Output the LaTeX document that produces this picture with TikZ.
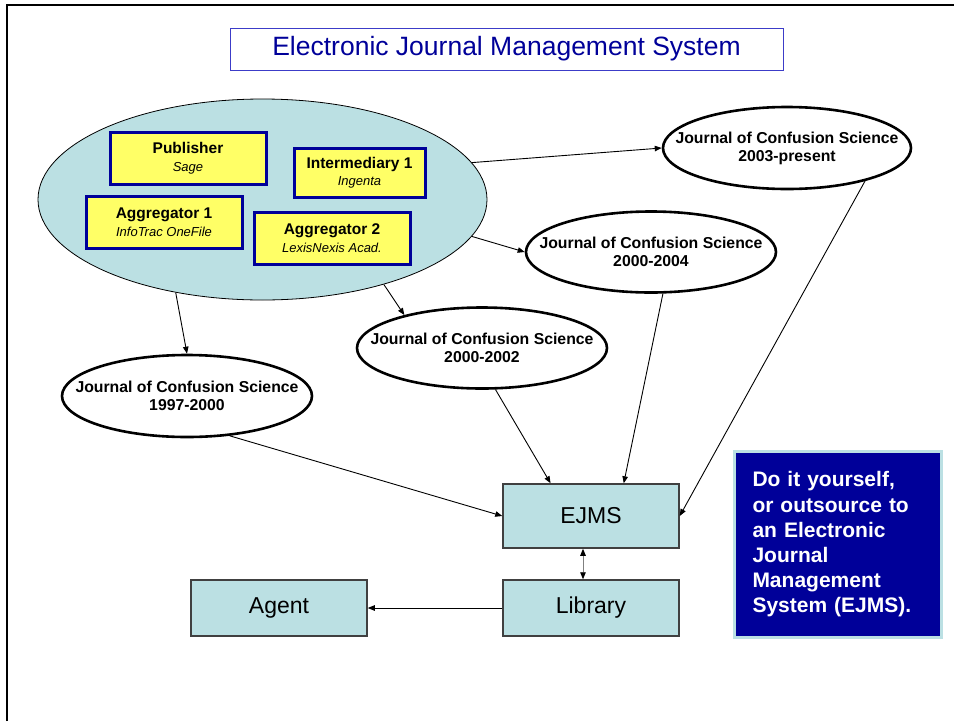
\documentclass[tikz,border=0pt]{standalone}
\usepackage{fontspec}
\setmainfont{Liberation Sans}
\usetikzlibrary{shapes.geometric,arrows.meta}
\definecolor{paleteal}{RGB}{187,224,227}
\definecolor{pubyellow}{RGB}{255,255,102}
\definecolor{navy}{RGB}{0,0,153}
\definecolor{titleline}{RGB}{60,60,200}
\definecolor{boxgrey}{RGB}{64,64,64}
\tikzset{
  link/.style={line width=0.9pt,-{Triangle[length=7pt,width=5.5pt]}},
  journal/.style={ellipse,draw,line width=2.6pt,fill=white,inner xsep=-60pt,inner ysep=0pt,
    minimum width=250pt,minimum height=81pt,align=center,font=\fontsize{15.8}{18}\selectfont\bfseries},
  source/.style={rectangle,draw=navy,line width=3pt,fill=pubyellow,inner sep=0pt,
    minimum width=156pt,minimum height=52pt,align=center,font=\fontsize{15.5}{17.5}\selectfont},
  unit/.style={rectangle,draw=boxgrey,line width=1.5pt,fill=paleteal,inner sep=0pt,
    minimum width=176pt,minimum height=56pt,font=\fontsize{23}{27}\selectfont},
}
\newcommand{\srcname}[1]{{\fontsize{13}{15}\selectfont\itshape #1}}
\begin{document}
\begin{tikzpicture}[x=1pt,y=-1pt]
	\useasboundingbox (0,0) rectangle (954,721);
	\draw[line width=2.5pt] (7,721) -- (7,5) -- (954,5);
	\node[draw=titleline,line width=0.8pt,minimum width=553pt,minimum height=42pt,inner sep=0pt,text=navy,font=\fontsize{26.5}{30}\selectfont] (title) at (506.5,49) {Electronic Journal Management System};

	\node[ellipse,draw,line width=0.8pt,fill=paleteal,minimum width=449pt,minimum height=201pt,inner sep=0pt] (bigell) at (262.5,199.5) {};
	\node[source] (publisher) at (188,158) {\textbf{Publisher}\\\srcname{Sage}};
	\node[source,minimum width=131pt,minimum height=49pt] (intermediary) at (359.5,172.5) {\textbf{Intermediary 1}\\\srcname{Ingenta}};
	\node[source] (aggone) at (164,222) {\textbf{Aggregator 1}\\\srcname{InfoTrac OneFile}};
	\node[source] (aggtwo) at (332,238) {\textbf{Aggregator 2}\\\srcname{LexisNexis Acad.}};

	\node[journal,minimum width=248pt,minimum height=82pt] (jcs2003) at (787,148) {Journal of Confusion Science\\2003-present};
	\node[journal] (jcs2004) at (651,252) {Journal of Confusion Science\\2000-2004};
	\node[journal] (jcs2002) at (482,348) {Journal of Confusion Science\\2000-2002};
	\node[journal,minimum height=82pt] (jcs1997) at (187,396) {Journal of Confusion Science\\1997-2000};

	\node[unit,minimum height=64pt] (ejms) at (591,516) {EJMS};
	\node[unit] (library) at (591,608) {Library};
	\node[unit] (agent) at (279,608) {Agent};

	\node[draw=paleteal,line width=3pt,fill=navy,text=white,text width=170pt,inner xsep=18.5pt,inner ysep=0pt,minimum height=186pt,align=left,font=\fontsize{21}{25.2}\selectfont\bfseries] (note) at (837.5,544.5) {Do it yourself,\\or outsource to\\an Electronic\\Journal\\Management\\System (EJMS).};

	\draw[link] (bigell.10) -- (jcs2003.west);
	\draw[link] (bigell.-10) -- (jcs2004.west);
	\draw[link] (bigell.-35) -- (jcs2002.157);
	\draw[link] (bigell.-133) -- (jcs1997.north);
	\draw[link] (jcs1997.-43) -- (ejms.west);
	\draw[link] (jcs2002.-72) -- (ejms.141);
	\draw[link] (jcs2004.-74) -- (ejms.45);
	\draw[link] (jcs2003.-23) -- (ejms.east);
	\draw[link,draw=gray,{Triangle[length=7pt,width=5.5pt,color=black]}-{Triangle[length=7pt,width=5.5pt,color=black]}] ([xshift=-8pt]ejms.south) -- ([xshift=-8pt]library.north);
	\draw[link] (library.west) -- (agent.east);
\end{tikzpicture}
\end{document}
